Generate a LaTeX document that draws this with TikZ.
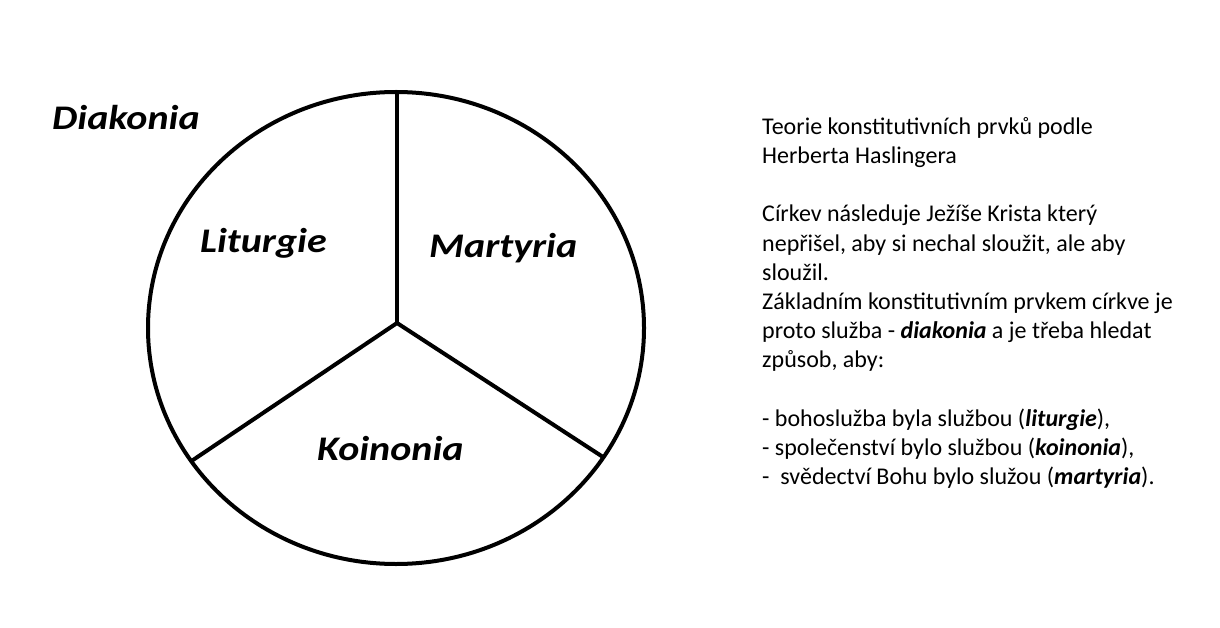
\documentclass[tikz,border=0pt]{standalone}
\usepackage{fontspec}
\setmainfont{Carlito}
\newcommand{\lblstretch}[1]{\scalebox{1.16}[1]{#1}}
\begin{document}
\begin{tikzpicture}[x=1pt,y=-1pt,
  divline/.style={line width=4pt, line join=round, line cap=round},
  lbl/.style={anchor=base west, inner sep=0pt, font=\fontsize{34.5}{40}\selectfont\bfseries\itshape},
  body/.style={anchor=north west, inner sep=0pt, align=left, font=\fontsize{24}{29.2}\selectfont}]
\useasboundingbox[fill=white] (0,0) rectangle (1220,628);
\coordinate (c) at (397,323);
\coordinate (top) at (397,92);
\coordinate (ll) at (193,460);
\coordinate (lr) at (603,457);
\draw[divline] (396,328) ellipse [x radius=248, y radius=236];
\draw[divline] (top) -- (c);
\draw[divline] (c) -- (ll);
\draw[divline] (c) -- (lr);
\node[lbl] (diak) at (52,130) {\lblstretch{Diakonia}};
\node[lbl] (lit) at (200,253) {\lblstretch{Liturgie}};
\node[lbl] (mart) at (429,258) {\lblstretch{Martyria}};
\node[lbl] (koin) at (317,460) {\lblstretch{Koinonia}};
\node[body] (txt) at (762,117) {Teorie konstitutivních prvků podle\\
Herberta Haslingera\\[29.2pt]
Církev následuje Ježíše Krista který\\
nepřišel, aby si nechal sloužit, ale aby\\
sloužil.\\
Základním konstitutivním prvkem církve je\\
proto služba - \textbf{\textit{diakonia}} a je třeba hledat\\
způsob, aby:\\[29.2pt]
- bohoslužba byla službou (\textbf{\textit{liturgie}}),\\
- společenství bylo službou (\textbf{\textit{koinonia}}),\\
-\ \ svědectví Bohu bylo služou (\textbf{\textit{martyria}}).};
\end{tikzpicture}
\end{document}
